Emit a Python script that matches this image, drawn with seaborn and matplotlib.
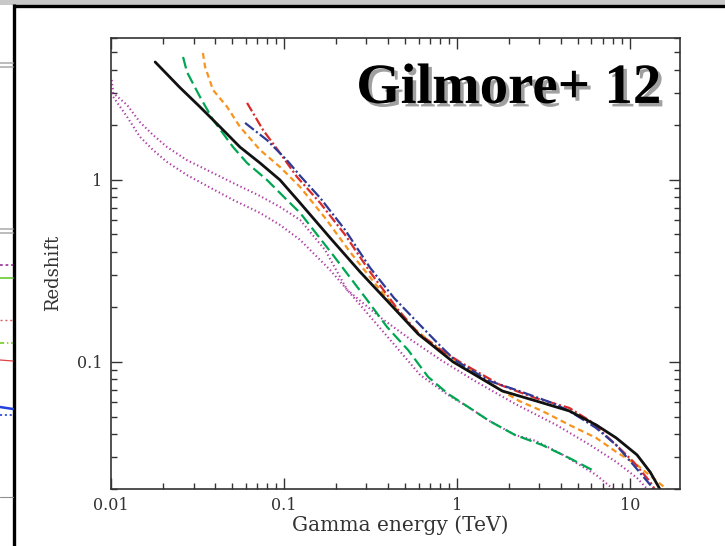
import matplotlib
matplotlib.use("Agg")
import matplotlib.pyplot as plt
import matplotlib.patheffects as pe
from matplotlib.patches import Rectangle
from matplotlib.ticker import FixedLocator, FixedFormatter, NullFormatter
import seaborn as sns

# Gamma-ray horizon: redshift vs. gamma energy (TeV) for several EBL models
black_E = [0.018, 0.025, 0.0327, 0.0427, 0.0557, 0.0727, 0.0949, 0.124, 0.185, 0.276, 0.39,
           0.597, 0.951, 1.83, 2.87, 4.46, 6.38, 8.33, 11.0, 13.1, 15.0]
black_z = [4.43, 3.21, 2.51, 1.95, 1.51, 1.235, 0.996, 0.745, 0.479, 0.311, 0.219,
           0.142, 0.0998, 0.0691, 0.0609, 0.0537, 0.045, 0.0382, 0.0308, 0.0248, 0.0198]

green_E = [0.0261, 0.0275, 0.0327, 0.0389, 0.0508, 0.0612, 0.0798, 0.104, 0.124, 0.192, 0.302,
           0.395, 0.522, 0.682, 0.889, 1.16, 1.54, 2.17, 3.11, 4.46, 6.38]
green_z = [4.72, 3.90, 2.85, 2.13, 1.51, 1.235, 0.996, 0.774, 0.657, 0.386, 0.219,
           0.155, 0.116, 0.0825, 0.0666, 0.0565, 0.0473, 0.0396, 0.0349, 0.0296, 0.0248]

orange_E = [0.034, 0.035, 0.0389, 0.0469, 0.0557, 0.0727, 0.0949, 0.124, 0.173, 0.241, 0.36, 0.536,
            0.799, 1.19, 1.75, 2.29, 3.11, 4.46, 6.38, 8.33, 11.0, 13.6, 17.1]
orange_z = [4.96, 4.16, 3.11, 2.51, 1.95, 1.456, 1.174, 0.912, 0.616, 0.401, 0.248, 0.159,
            0.116, 0.0902, 0.0709, 0.0609, 0.0537, 0.045, 0.0382, 0.032, 0.0271, 0.023, 0.0193]

red_E = [0.0612, 0.0757, 0.0949, 0.119, 0.162, 0.226, 0.315, 0.457, 0.597, 0.81, 1.04, 1.78,
         2.83, 4.46, 5.89, 8.33, 10.5, 13.1, 14.0]
red_z = [2.64, 1.875, 1.40, 1.035, 0.745, 0.497, 0.311, 0.193, 0.144, 0.116, 0.0998, 0.0746,
         0.0633, 0.0558, 0.0473, 0.0349, 0.0282, 0.0219, 0.0198]

blue_E = [0.0596, 0.0798, 0.104, 0.124, 0.162, 0.226, 0.315, 0.433, 0.597, 0.81, 0.976, 1.54,
          2.29, 3.55, 4.46, 6.38, 8.33, 10.5, 13.1, 13.6]
blue_z = [2.05, 1.65, 1.28, 1.05, 0.794, 0.529, 0.328, 0.224, 0.163, 0.121, 0.102, 0.0784,
          0.0691, 0.0594, 0.0537, 0.0433, 0.0349, 0.0271, 0.0211, 0.0198]

purple_hi_E = [0.0101, 0.0103, 0.0124, 0.0147, 0.0175, 0.0211, 0.0275, 0.0359, 0.0508, 0.0727,
               0.0949, 0.124, 0.173, 0.232, 0.364, 0.543, 0.81, 1.27, 2.17, 3.75, 5.89, 8.33,
               11.0, 12.6]
purple_hi_z = [3.53, 2.99, 2.57, 2.07, 1.76, 1.51, 1.28, 1.13, 0.959, 0.814, 0.708, 0.601, 0.411,
               0.248, 0.174, 0.132, 0.102, 0.0784, 0.0587, 0.045, 0.0349, 0.0282, 0.023, 0.02]

purple_lo_E = [0.0103, 0.0124, 0.0147, 0.0175, 0.0211, 0.0275, 0.0359, 0.0508, 0.0727, 0.0949,
               0.124, 0.185, 0.276, 0.411, 0.613, 0.889, 1.16, 1.54, 2.17, 2.87, 4.11, 6.38, 8.01]
purple_lo_z = [2.85, 2.21, 1.72, 1.456, 1.25, 1.06, 0.924, 0.774, 0.657, 0.564, 0.467, 0.319,
               0.205, 0.132, 0.0846, 0.0657, 0.0565, 0.0473, 0.0396, 0.0367, 0.0308, 0.0239, 0.02]

x_ticks = [0.01, 0.1, 1, 10]
x_tick_labels = ["0.01", "0.1", "1", "10"]
y_ticks = [0.1, 1]
y_tick_labels = ["0.1", "1"]
title_text = "Gilmore+ 12"

sns.set_theme(style="ticks")
plt.rcParams["font.family"] = ["DejaVu Serif", "DejaVu Sans"]
plt.rcParams["lines.scale_dashes"] = False

W, H = 725, 546
fig = plt.figure(figsize=(W / 100, H / 100), dpi=100, facecolor="white")

# slide frame behind the chart
bg = fig.add_axes([0, 0, 1, 1], zorder=0)
bg.set_xlim(0, W)
bg.set_ylim(H, 0)
bg.axis("off")
bg.add_patch(Rectangle((0, 0), W, 4.5, color="#c8c8c8", lw=0))
bg.plot([13, W], [5.5, 5.5], color="black", lw=2.4, solid_capstyle="butt")
bg.plot([14.5, 14.5], [4, H], color="black", lw=2.4, solid_capstyle="butt")
for yy in (63, 67, 229, 233):
    bg.plot([0, 13], [yy, yy], color="#b0b0b0", lw=1.2)
bg.plot([0, 13], [497, 497], color="#909090", lw=0.8)
bg.plot([0, 13], [265, 265], color="#9b30a0", lw=1.2, ls=(0, (2, 2)))
bg.plot([0, 13], [278, 278], color="#66cc33", lw=1.2)
bg.plot([0, 13], [320, 320], color="#e06060", lw=1.0, ls=(0, (1.5, 2)))
bg.plot([0, 13], [343, 343], color="#77cc22", lw=1.2, ls=(0, (3, 2, 1, 2)))
bg.plot([0, 13], [360, 361], color="#dd4444", lw=0.9)
bg.plot([0, 13], [407, 409], color="#2244dd", lw=1.8)
bg.plot([0, 13], [415, 415], color="#2244dd", lw=1.2, ls=(0, (1.5, 2)))

ax = fig.add_axes([111 / W, 1 - 489 / H, 569 / W, 451 / H], zorder=1)
ax.set_facecolor("white")

curves = [
    (purple_hi_E, purple_hi_z, "#b040a8", 1.5, (0, (1.0, 1.9))),
    (purple_lo_E, purple_lo_z, "#b040a8", 1.5, (0, (1.0, 1.9))),
    (green_E, green_z, "#00a651", 1.6, (0, (8.5, 3.5))),
    (orange_E, orange_z, "#f7941d", 1.6, (0, (4.2, 2.8))),
    (red_E, red_z, "#d92a2a", 1.6, (0, (7.0, 2.0, 1.5, 2.0))),
    (blue_E, blue_z, "#2e3a96", 1.6, (0, (8.0, 2.0, 1.5, 2.0))),
    (black_E, black_z, "#111111", 2.0, "-"),
]
for E, z, col, lw, ls in curves:
    sns.lineplot(x=E, y=z, sort=False, estimator=None, ax=ax, color=col, lw=lw, linestyle=ls)

ax.set_xscale("log")
ax.set_yscale("log")
ax.set_xlim(0.01, 19.5)
ax.set_ylim(0.02, 6)

ax.xaxis.set_major_locator(FixedLocator(x_ticks))
ax.xaxis.set_major_formatter(FixedFormatter(x_tick_labels))
ax.yaxis.set_major_locator(FixedLocator(y_ticks))
ax.yaxis.set_major_formatter(FixedFormatter(y_tick_labels))
ax.xaxis.set_minor_formatter(NullFormatter())
ax.yaxis.set_minor_formatter(NullFormatter())

ax.tick_params(which="both", direction="in", top=True, right=True, colors="#333333",
               labelsize=11.5, width=1.0)
ax.tick_params(which="major", length=8, pad=6)
ax.tick_params(which="minor", length=4.5)
for s in ax.spines.values():
    s.set_linewidth(1.2)
    s.set_color("#333333")

ax.set_xlabel("Gamma energy (TeV)", fontsize=14.5, color="#333333")
ax.set_ylabel("Redshift", fontsize=13, color="#333333")
ax.xaxis.set_label_coords(0.508, -0.058)
ax.yaxis.set_label_coords(-0.086, 0.48)

ax.text(0.968, 0.856, title_text, transform=ax.transAxes, ha="right", va="baseline",
        fontsize=41, fontweight="bold", family="Liberation Serif", color="black",
        path_effects=[pe.SimplePatchShadow(offset=(2.5, -2.5), shadow_rgbFace="#888888", alpha=0.8),
                      pe.Normal()], zorder=5)

fig.savefig("out.png", dpi=100, facecolor="white")
